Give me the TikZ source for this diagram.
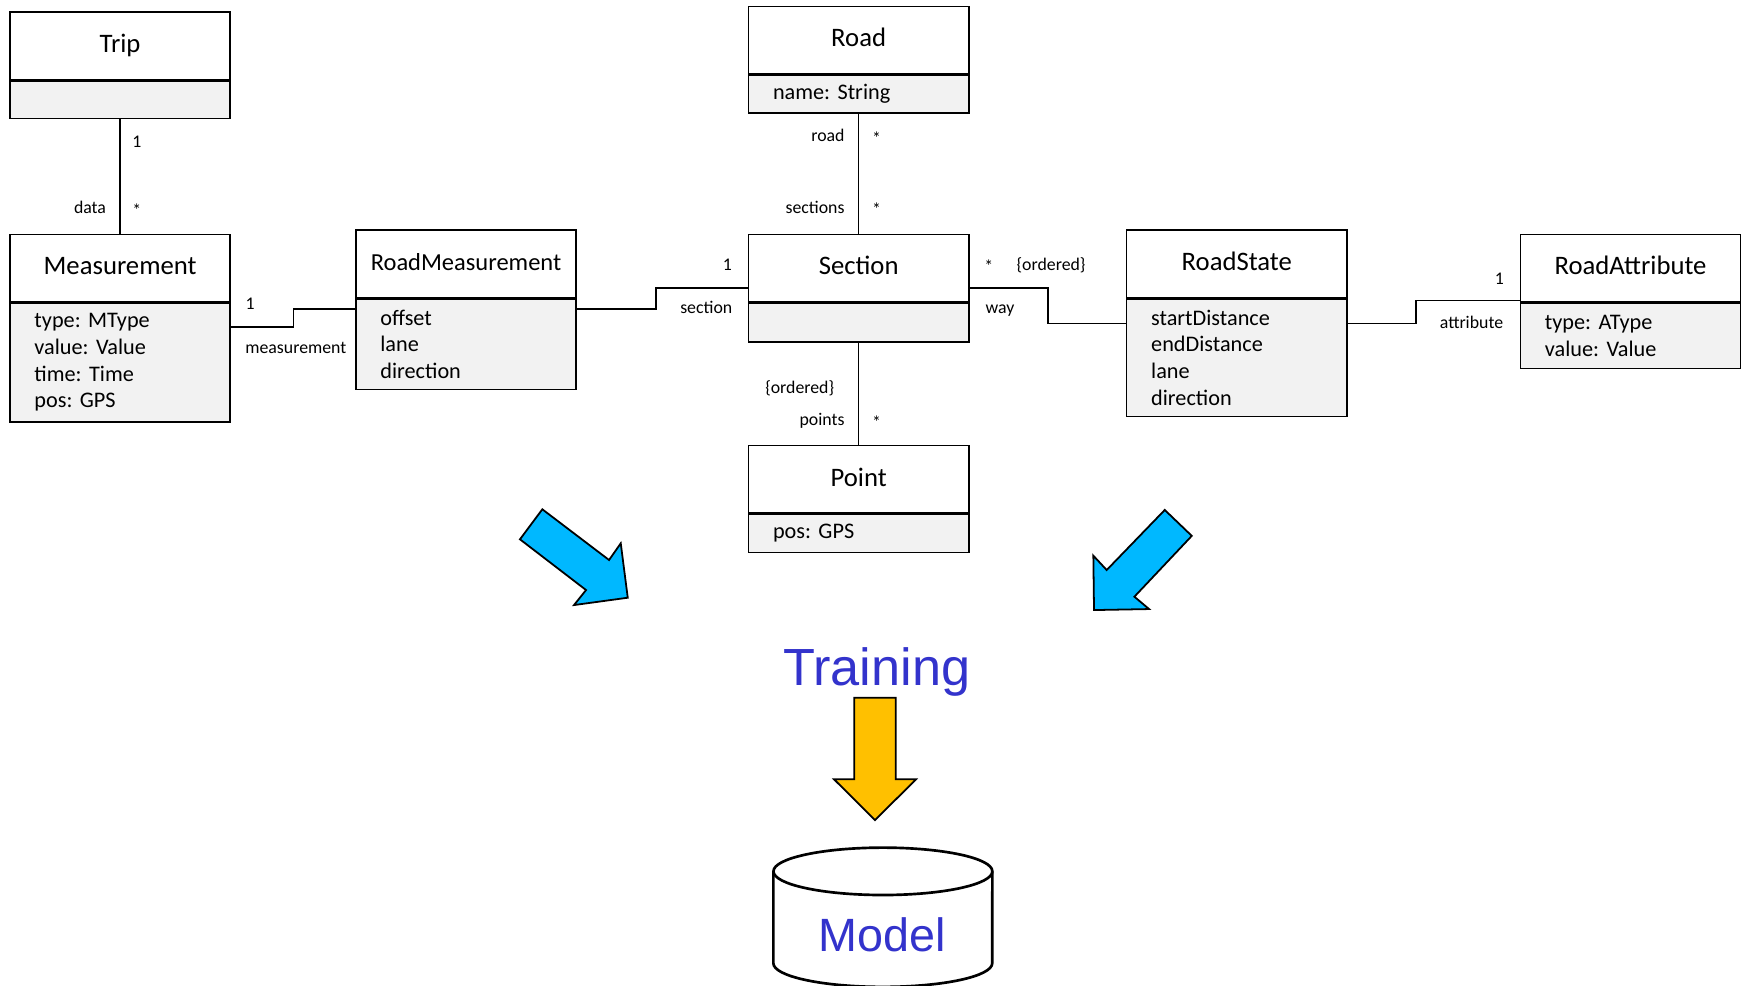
\documentclass[tikz,border=0pt]{standalone}
\usepackage{fontspec}
\setmainfont{Carlito}
\newfontfamily\arialfont{Liberation Sans}
\usepackage{xcolor}
\definecolor{attrgray}{HTML}{F2F2F2}
\definecolor{arrowblue}{HTML}{00B8FF}
\definecolor{arrowgold}{HTML}{FFC000}
\definecolor{wordblue}{HTML}{3333CC}
\frenchspacing

\begin{document}
\begin{tikzpicture}[x=0.5pt, y=-0.5pt, line width=0.7pt,
    classname/.style={draw, fill=white, anchor=north, minimum width=99pt, minimum height=30.3pt,
      inner sep=0pt, text height=8.5pt, text depth=2.5pt, font=\fontsize{12}{14}\selectfont},
    classattr/.style={draw, fill=attrgray, anchor=north, text width=77pt, inner xsep=11pt,
      inner ysep=0pt, align=left, font=\fontsize{10}{12}\selectfont},
    role/.style={inner sep=0pt, text height=5.5pt, text depth=1.5pt, font=\fontsize{8}{9}\selectfont},
    bigarrow/.style={draw, line width=0.8pt, line join=miter},
    bigword/.style={text=wordblue, anchor=base, font=\arialfont\fontsize{23.5}{28}\selectfont}]

  \useasboundingbox (0,0) rectangle (1568,886);

  % classes
  \node[classname] (trip) at (108,10) {Trip};
  \node[classattr, minimum height=17pt] (trip-a) at (trip.south) {};

  \node[classname] (meas) at (108,210) {Measurement};
  \node[classattr, minimum height=53.3pt] (meas-a) at (meas.south)
    {type: MType\\value: Value\\time: Time\\pos: GPS};

  \node[classname, font=\fontsize{11}{13}\selectfont] (rm) at (419,206) {RoadMeasurement};
  \node[classattr, minimum height=40.8pt] (rm-a) at (rm.south) {offset\\lane\\direction};

  \node[classname] (road) at (772,5) {Road};
  \node[classattr, minimum height=17pt] (road-a) at (road.south) {name: String};

  \node[classname] (section) at (772,210) {Section};
  \node[classattr, minimum height=17.3pt] (section-a) at (section.south) {};

  \node[classname] (point) at (772,400) {Point};
  \node[classattr, minimum height=17pt] (point-a) at (point.south) {pos: GPS};

  \node[classname] (rs) at (1112,206) {RoadState};
  \node[classattr, minimum height=52.8pt] (rs-a) at (rs.south)
    {startDistance\\endDistance\\lane\\direction};

  \node[classname] (ra) at (1466,210) {RoadAttribute};
  \node[classattr, minimum height=29.3pt] (ra-a) at (ra.south) {type: AType\\value: Value};

  % associations
  \draw (trip-a) -- (meas);
  \draw (road-a) -- (section);
  \draw (section-a) -- (point);
  \draw (meas-a.east |- 0,294) -- (264,294) |- (rm-a.west |- 0,278);
  \draw (rm-a.east |- 0,278) -- (590,278) |- (section.west |- 0,259);
  \draw (section.east |- 0,259) -- (942,259) |- (rs-a.west |- 0,291);
  \draw (rs-a.east |- 0,291) -- (1273,291) |- (ra.west |- 0,270);

  \node[role] (trip-m) at (123,129) {1};
  \node[role] (meas-m) at (123,191) {*};
  \node[role, anchor=east] (meas-r) at (96,188) {data};
  \node[role] (rm-m) at (225,274) {1};
  \node[role] (rm-r) at (266,314) {measurement};
  \node[role] (sec-m1) at (654,239) {1};
  \node[role] (sec-r1) at (635,278) {section};
  \node[role, anchor=east] (road-r) at (760,123) {road};
  \node[role] (road-m) at (788,126) {*};
  \node[role, anchor=east] (sec-r2) at (760,188) {sections};
  \node[role] (sec-m2) at (788,190) {*};
  \node[role] (rs-m) at (889,241) {*};
  \node[role] (rs-o) at (945,239) {\{ordered\}};
  \node[role] (rs-r) at (899,278) {way};
  \node[role] (ra-m) at (1348,252) {1};
  \node[role] (ra-r) at (1323,291) {attribute};
  \node[role] (pt-o) at (719,350) {\{ordered\}};
  \node[role, anchor=east] (pt-r) at (760,379) {points};
  \node[role] (pt-m) at (788,381) {*};

  % training part
  \draw[bigarrow, fill=arrowblue] (487.6,457.9) -- (547.6,503.5) -- (558.1,488.5) -- (564.4,537.4)
    -- (516.1,544) -- (526.9,530.5) -- (467.5,484.9) -- cycle;
  \draw[bigarrow, fill=arrowblue] (1047.2,458.5) -- (1071.5,481.8) -- (1019.9,536.5) -- (1033.1,547.6)
    -- (983.6,548.5) -- (983,499.6) -- (995,512.5) -- cycle;

  \node[bigword] (training) at (788.3,616.5) {Training};

  \draw[bigarrow, fill=arrowgold] (768.1,627.3) -- (805.4,627.3) -- (805.4,700.7) -- (823.6,700.7)
    -- (786.7,737.3) -- (749.9,700.7) -- (768.1,700.7) -- cycle;

  \draw[line width=1.2pt, fill=white] (695.3,783.4) -- (695.3,866)
    arc[start angle=180, end angle=360, x radius=49.2pt, y radius=10.65pt] -- (892.2,783.4);
  \draw[line width=1.2pt] (793.8,783.4) ellipse [x radius=49.2pt, y radius=10.65pt];
  \node[bigword, font=\arialfont\fontsize{21}{25}\selectfont] (model) at (793.5,855.7) {Model};

\end{tikzpicture}
\end{document}
